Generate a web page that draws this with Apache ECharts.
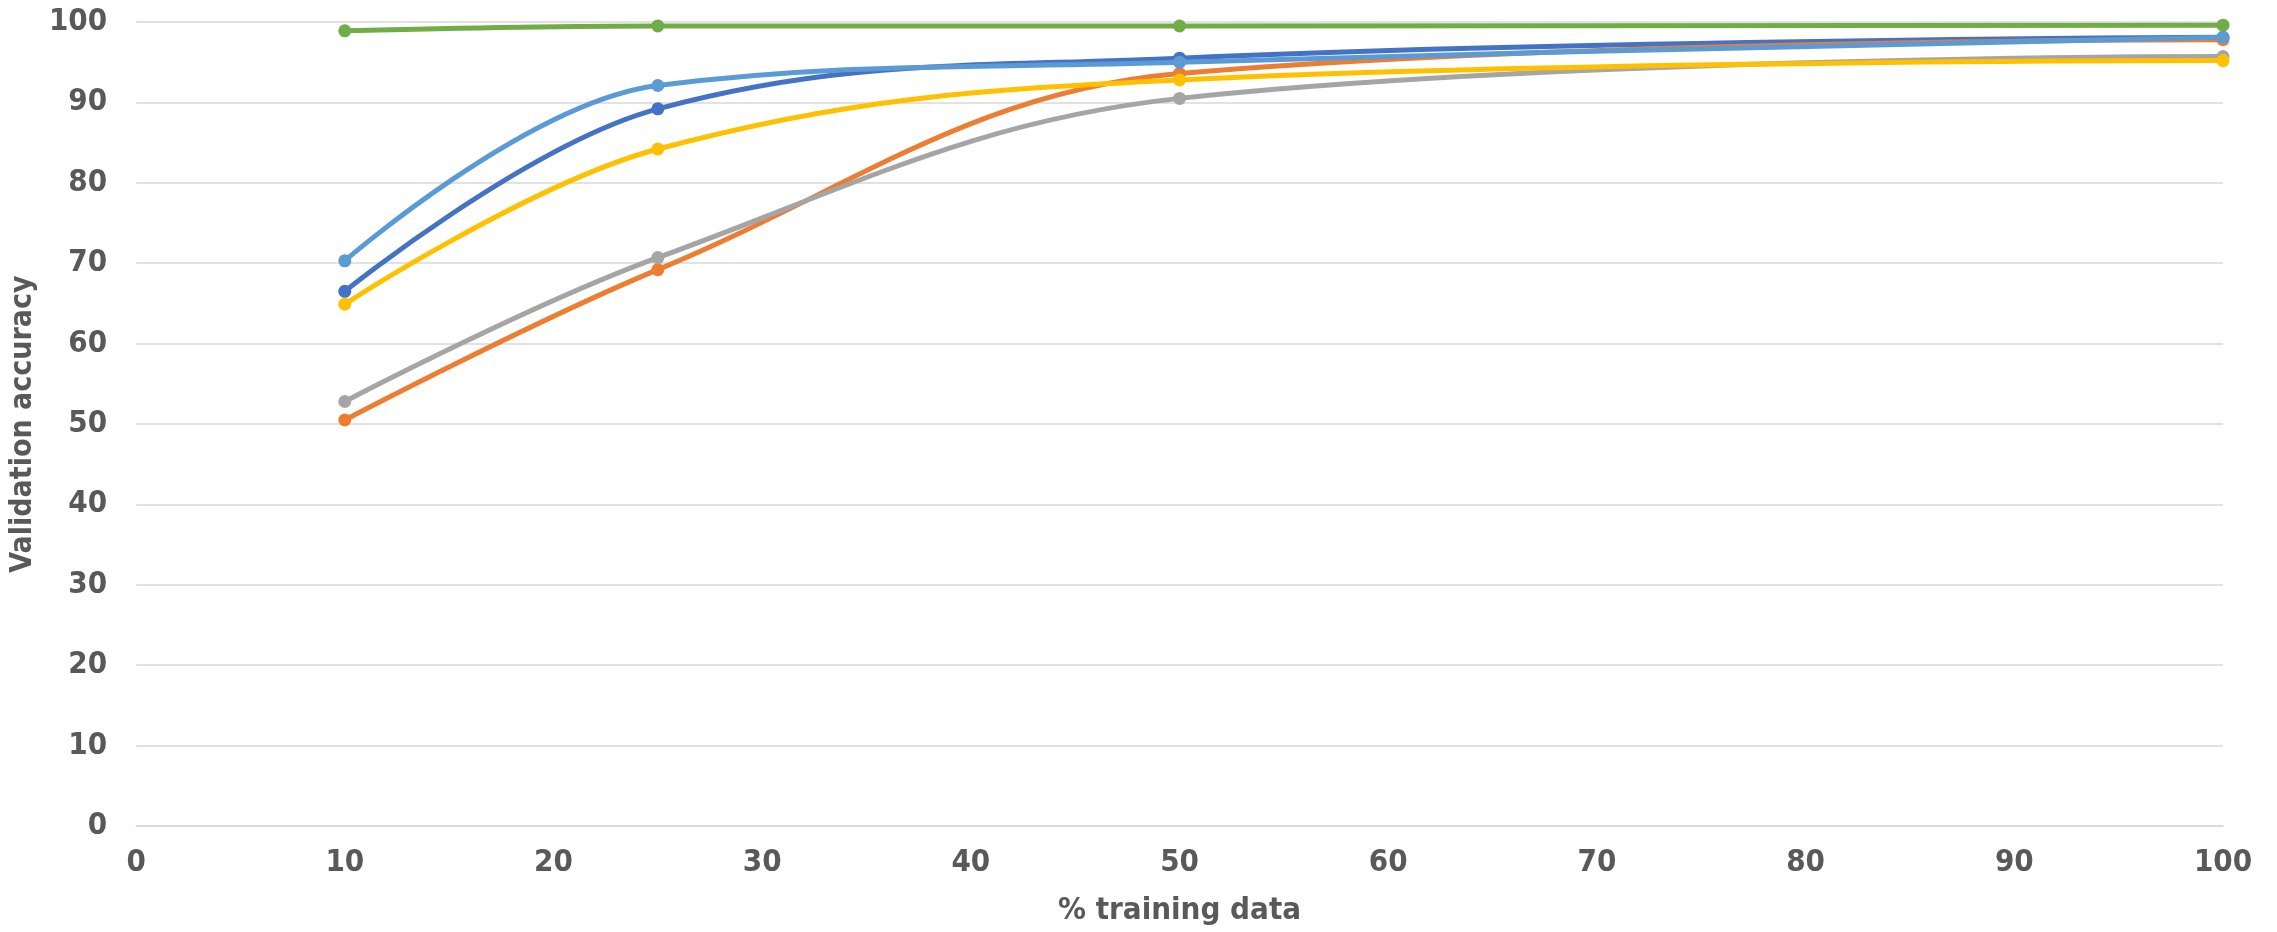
<!DOCTYPE html>
<html>
<head>
<meta charset="utf-8">
<script src="https://cdn.jsdelivr.net/npm/echarts@6/dist/echarts.min.js"></script>
<style>
html,body{margin:0;padding:0;background:#fff;}
#chart{width:2277px;height:932px;}
</style>
</head>
<body>
<div id="chart"></div>
<script>
var xValues = [10, 25, 50, 100];
var series1 = [66.5, 89.2, 95.5, 98.1];   // dark blue
var series2 = [50.5, 69.2, 93.6, 97.8];   // orange
var series3 = [52.8, 70.7, 90.5, 95.7];   // gray
var series4 = [64.9, 84.2, 92.8, 95.2];   // yellow
var series5 = [70.3, 92.1, 95.0, 98.1];   // light blue
var series6 = [98.9, 99.5, 99.5, 99.6];   // green
var xTicks = {min: 0, max: 100, interval: 10};
var yTicks = {min: 0, max: 100, interval: 10};

var colors = ['#4472C4', '#ED7D31', '#A5A5A5', '#FFC000', '#5B9BD5', '#70AD47'];
var all = [series1, series2, series3, series4, series5, series6];
var FONT = '"DejaVu Sans Condensed", "Liberation Sans Narrow", sans-serif';
var textColor = '#595959';

function pairs(vals) {
  return xValues.map(function (x, i) { return [x, vals[i]]; });
}

var chart = echarts.init(document.getElementById('chart'), null, {renderer: 'canvas'});
chart.setOption({
  animation: false,
  backgroundColor: '#ffffff',
  grid: {left: 130, right: 54, top: 22, bottom: 106, containLabel: false},
  xAxis: {
    type: 'value',
    min: xTicks.min, max: xTicks.max, interval: xTicks.interval,
    name: '% training data',
    nameLocation: 'middle',
    nameGap: 69,
    nameTextStyle: {fontFamily: FONT, fontWeight: 'bold', fontSize: 31, color: textColor},
    axisLine: {show: true, lineStyle: {color: '#d9d9d9', width: 1.5}},
    axisTick: {show: false},
    splitLine: {show: false},
    axisLabel: {fontFamily: FONT, fontWeight: 'bold', fontSize: 31, color: textColor, margin: 21}
  },
  yAxis: {
    type: 'value',
    min: yTicks.min, max: yTicks.max, interval: yTicks.interval,
    name: 'Validation accuracy',
    nameLocation: 'middle',
    nameGap: 82,
    nameTextStyle: {fontFamily: FONT, fontWeight: 'bold', fontSize: 30, color: textColor},
    axisLine: {show: false},
    axisTick: {show: false},
    splitLine: {show: true, lineStyle: {color: '#d9d9d9', width: 1.5}},
    axisLabel: {fontFamily: FONT, fontWeight: 'bold', fontSize: 31, color: textColor, margin: 29}
  },
  series: all.map(function (vals, i) {
    return {
      name: 'Series ' + (i + 1),
      type: 'line',
      data: pairs(vals),
      smooth: 0.38,
      symbol: 'circle',
      symbolSize: 13,
      showSymbol: true,
      lineStyle: {color: colors[i], width: 5},
      itemStyle: {color: colors[i]},
      z: 2 + i
    };
  })
});
</script>
</body>
</html>
